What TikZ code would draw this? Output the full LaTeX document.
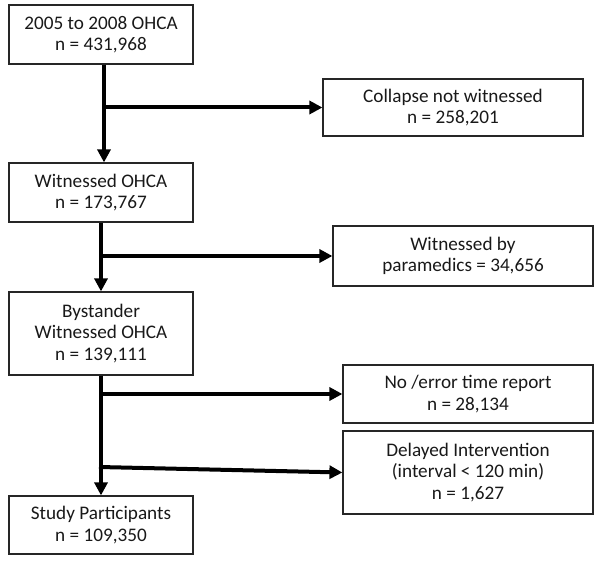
\documentclass[tikz,border=0pt]{standalone}
\usepackage{fontspec}
\setmainfont{Carlito}
\usetikzlibrary{arrows.meta,calc}
\begin{document}
\begin{tikzpicture}[x=1pt,y=-1pt,
  box/.style={draw=black!85,line width=1.2pt,fill=white,align=center,inner sep=0pt,
    font=\fontsize{19.2}{21.5}\selectfont,text=black!90},
  arr/.style={line width=4pt,-{Triangle[width=13pt,length=13pt]}}]
\useasboundingbox (0,0) rectangle (600,564);
\node[box,minimum width=184pt,minimum height=59pt] (b1) at (101,34.5) {2005 to 2008 OHCA\\n = 431,968};
\node[box,minimum width=184pt,minimum height=59pt] (b2) at (101,192.5) {Witnessed OHCA\\n = 173,767};
\node[box,minimum width=184pt,minimum height=83pt] (b3) at (101,333.5) {Bystander\\Witnessed OHCA\\n = 139,111};
\node[box,minimum width=184pt,minimum height=58pt] (b4) at (101,525) {Study Participants\\n = 109,350};
\node[box,minimum width=260pt,minimum height=57pt] (e1) at (453,107.5) {Collapse not witnessed\\n = 258,201};
\node[box,minimum width=260pt,minimum height=60pt] (e2) at (463,256) {Witnessed by\\paramedics = 34,656};
\node[box,minimum width=250pt,minimum height=58pt] (e3) at (468,394) {No /error time report\\n = 28,134};
\node[box,minimum width=250pt,minimum height=83pt] (e4) at (468,472.5) {Delayed Intervention\\(interval < 120 min)\\n = 1,627};
% main flow
\draw[arr] ([xshift=3pt]b1.south) -- ([xshift=3pt]b2.north);
\draw[arr] (b2.south) -- (b3.north);
\draw[arr] (b3.south) -- (b4.north);
% branches
\coordinate (j1) at ([xshift=3pt]b1.south |- e1.west);
\draw[arr] ([xshift=-2pt]j1) -- (e1.west);
\coordinate (j2) at (b2.south |- e2.west);
\draw[arr] ([xshift=-2pt]j2) -- (e2.west);
\coordinate (j3) at (b3.south |- e3.west);
\draw[arr] ([xshift=-2pt]j3) -- (e3.west);
\coordinate (j4) at ($(b3.south |- e4.west)+(-2,-5.5)$);
\draw[arr] (j4) -- (e4.west);
\end{tikzpicture}
\end{document}
